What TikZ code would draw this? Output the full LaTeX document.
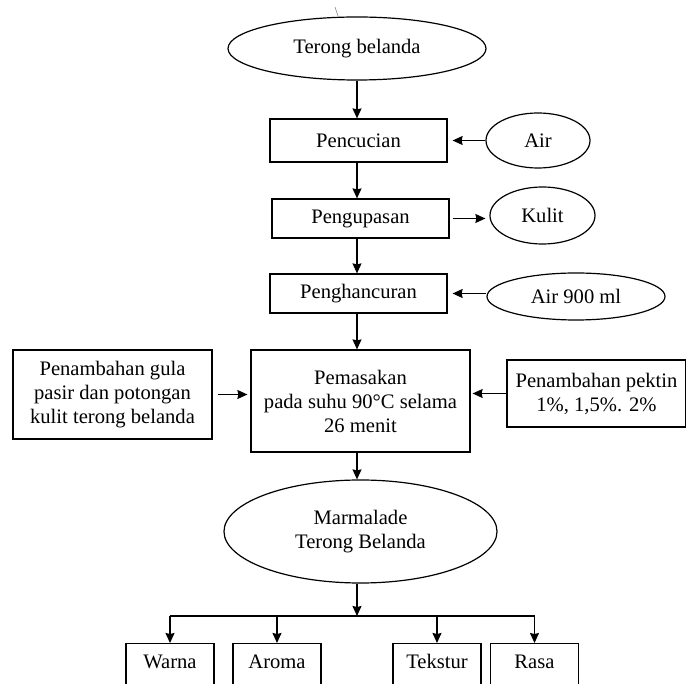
\documentclass[tikz,border=0pt]{standalone}
\usepackage{fontspec}
\setmainfont{Liberation Serif}
\usepackage{tikz}
\usetikzlibrary{shapes.geometric,arrows.meta}

\tikzset{
  txt/.style={font=\fontsize{20.6}{24}\selectfont, align=center, inner sep=0pt},
  proses/.style={txt, draw, rectangle, line width=1.2pt},
  bahan/.style={txt, draw, ellipse, line width=1.2pt},
  hasil/.style={proses, anchor=north, minimum width=88pt, text height=25pt, text depth=40pt},
  alur/.style={line width=1.2pt, -{Stealth[length=10pt,width=9pt,inset=1pt]}}
}

\begin{document}
\begin{tikzpicture}[x=1pt, y=-1pt]
  \useasboundingbox (0,0) rectangle (686,684);
  % main line
  \node[bahan, minimum width=258pt, minimum height=63pt] (tb) at (357,48.5) {Terong belanda};
  \node[proses, minimum width=177pt, minimum height=43pt] (cuci) at (358.5,140.5) {Pencucian};
  \node[proses, minimum width=177pt, minimum height=39pt] (kupas) at (360.5,218.5) {Pengupasan};
  \node[proses, minimum width=177pt, minimum height=39pt] (hancur) at (358.5,293.5) {Penghancuran};
  \node[proses, minimum width=219pt, minimum height=102pt] (masak) at (360.5,401) {Pemasakan\\pada suhu 90°C selama\\26 menit};
  \node[bahan, minimum width=273pt, minimum height=103pt] (marm) at (360.5,531.5) {Marmalade\\Terong Belanda};
  % inputs and outputs
  \node[bahan, minimum width=104pt, minimum height=55pt] (air) at (538,140.5) {Air};
  \node[bahan, minimum width=105pt, minimum height=57pt] (kulit) at (542.5,215.5) {Kulit};
  \node[bahan, minimum width=178pt, minimum height=47pt] (air900) at (576,296.5) {Air 900 ml};
  \node[proses, minimum width=199pt, minimum height=89pt] (gula) at (112.5,394.5) {Penambahan gula\\pasir dan potongan\\kulit terong belanda};
  \node[proses, minimum width=179pt, minimum height=67pt] (pektin) at (596.5,393.5) {Penambahan pektin\\1\%, 1,5\%. 2\%};
  % tests
  \node[hasil] (warna) at (170,643) {Warna};
  \node[hasil] (aroma) at (277,643) {Aroma};
  \node[hasil] (tekstur) at (437,643) {Tekstur};
  \node[hasil] (rasa) at (534.5,643) {Rasa};
  \coordinate (bagi) at (357,616);

  \draw[line width=0.5pt, gray] (335,7) -- (338,16);

  \path[alur]
  (tb) edge (tb.south |- cuci.north)
  (cuci.south -| tb) edge (tb.south |- kupas.north)
  (kupas.south -| tb) edge (tb.south |- hancur.north)
  (hancur.south -| tb) edge (tb.south |- masak.north)
  (masak.south -| tb) edge (tb.south |- marm.north)
  (marm.south -| tb) edge (bagi);

  \draw[alur, shorten >=5pt] (air.west) -- (cuci.east |- air.west);
  \draw[alur, shorten <=3pt, shorten >=4pt] (kupas.east) -- (kulit.west |- kupas.east);
  \draw[alur, shorten >=5pt] (air900.west |- hancur.east) -- (hancur.east);
  \draw[alur, shorten <=5pt, shorten >=3pt] (gula.east) -- (masak.west |- gula.east);
  \draw[alur, shorten >=2pt] (pektin.west) -- (masak.east |- pektin.west);

  \draw[line width=1.2pt] (warna.north |- bagi) -- (rasa.north |- bagi);
  \foreach \n in {warna,aroma,tekstur,rasa}
    \draw[alur] (\n.north |- bagi) -- (\n.north);
\end{tikzpicture}
\end{document}
